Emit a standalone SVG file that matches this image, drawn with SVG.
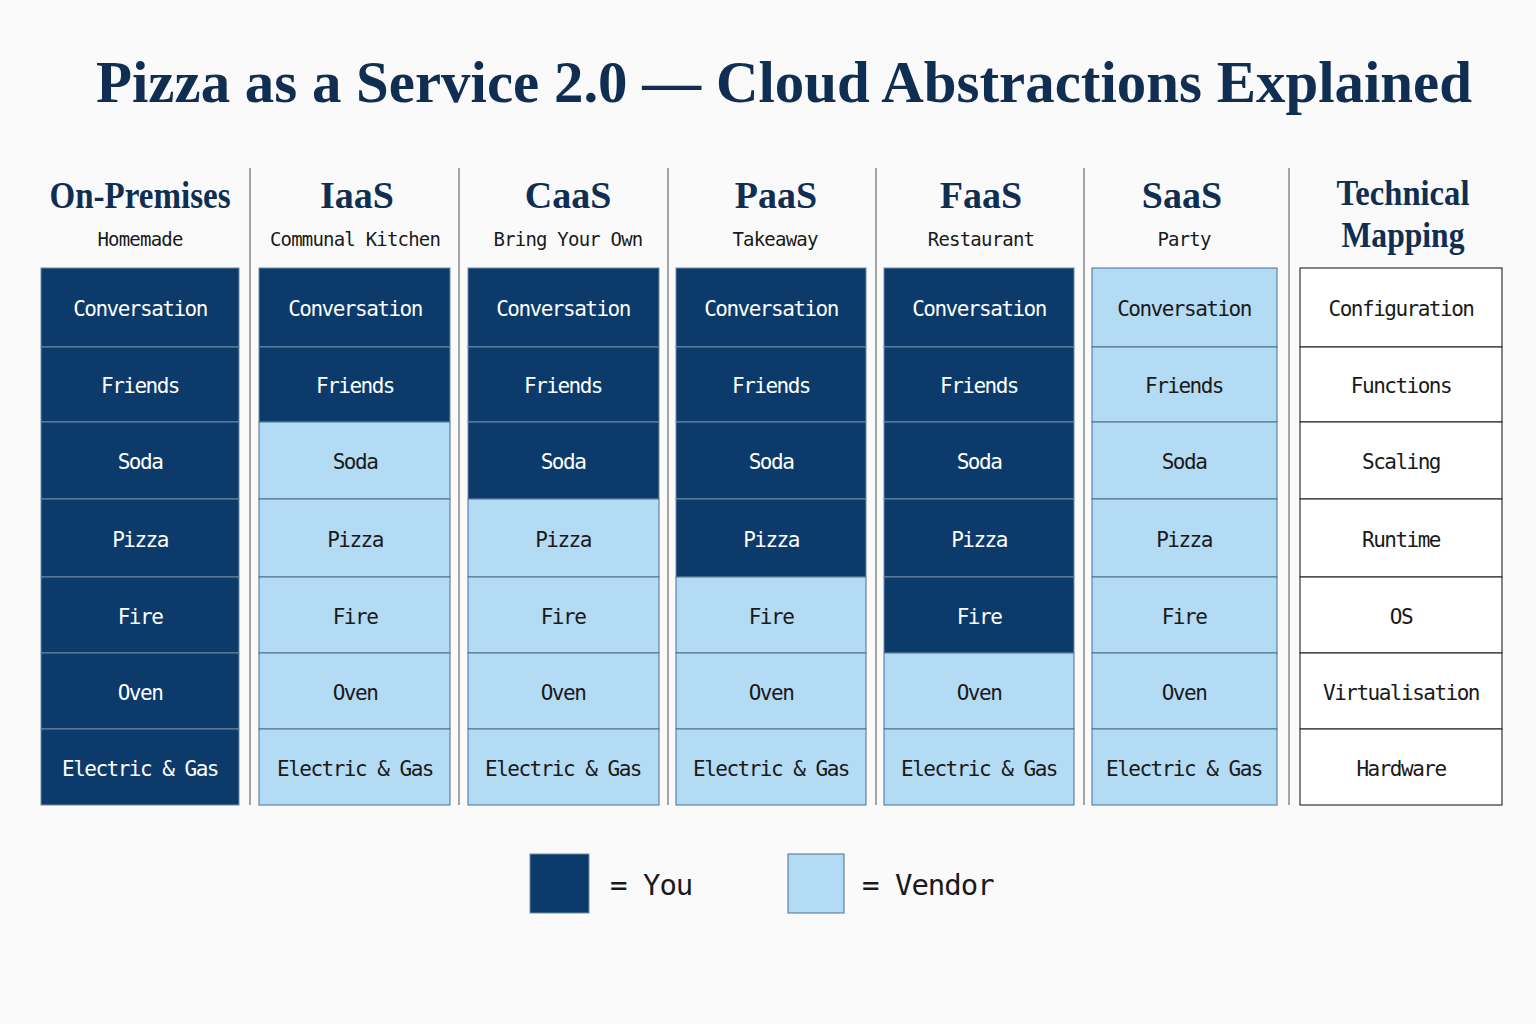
<svg xmlns="http://www.w3.org/2000/svg" width="1536" height="1024" viewBox="0 0 1536 1024">
<style>
.t{font-family:"Liberation Serif","DejaVu Serif",serif;font-weight:bold;fill:#0f2e52;text-anchor:middle}
.s{font-family:"DejaVu Sans Mono","Liberation Mono",monospace;font-size:19px;fill:#1a1a1a;text-anchor:middle;letter-spacing:-0.8px}
.c{font-family:"DejaVu Sans Mono","Liberation Mono",monospace;font-size:21px;text-anchor:middle;letter-spacing:-1.5px}
.y{fill:#0b3a6b;stroke:#6f8aa6;stroke-width:1}
.v{fill:#b3dbf3;stroke:#4d6f8f;stroke-width:1}
.w{fill:#fff;stroke:#333;stroke-width:1.2}
.yt{fill:#fff}.vt{fill:#1a1a1a}
.sep{stroke:#888;stroke-width:1.5}
</style>
<rect width="1536" height="1024" fill="#fafafa"/>
<text class="t" x="784" y="102" font-size="59" textLength="1376" lengthAdjust="spacingAndGlyphs">Pizza as a Service 2.0 — Cloud Abstractions Explained</text>
<g id="connectors">
<line class="sep" x1="250" y1="168" x2="250" y2="805"/>
<line class="sep" x1="459" y1="168" x2="459" y2="805"/>
<line class="sep" x1="668" y1="168" x2="668" y2="805"/>
<line class="sep" x1="876" y1="168" x2="876" y2="805"/>
<line class="sep" x1="1084" y1="168" x2="1084" y2="805"/>
<line class="sep" x1="1289" y1="168" x2="1289" y2="805"/>
</g>
<g id="headers">
<text class="t" x="140" y="208" font-size="37" textLength="181" lengthAdjust="spacingAndGlyphs">On-Premises</text><text class="s" x="140" y="246">Homemade</text>
<text class="t" x="357" y="208" font-size="38">IaaS</text><text class="s" x="355" y="246">Communal Kitchen</text>
<text class="t" x="568" y="208" font-size="38">CaaS</text><text class="s" x="568" y="246">Bring Your Own</text>
<text class="t" x="776" y="208" font-size="38">PaaS</text><text class="s" x="775" y="246">Takeaway</text>
<text class="t" x="981" y="208" font-size="38">FaaS</text><text class="s" x="981" y="246">Restaurant</text>
<text class="t" x="1182" y="208" font-size="38">SaaS</text><text class="s" x="1184" y="246">Party</text>
<text class="t" x="1403" y="205" font-size="36" textLength="133" lengthAdjust="spacingAndGlyphs">Technical</text><text class="t" x="1403" y="247" font-size="36" textLength="123" lengthAdjust="spacingAndGlyphs">Mapping</text>
</g>
<g id="col1">
<rect class="y" x="41" y="268" width="198" height="79"/><text class="c yt" x="140" y="316">Conversation</text>
<rect class="y" x="41" y="347" width="198" height="75"/><text class="c yt" x="140" y="393">Friends</text>
<rect class="y" x="41" y="422" width="198" height="77"/><text class="c yt" x="140" y="469">Soda</text>
<rect class="y" x="41" y="499" width="198" height="78"/><text class="c yt" x="140" y="547">Pizza</text>
<rect class="y" x="41" y="577" width="198" height="76"/><text class="c yt" x="140" y="624">Fire</text>
<rect class="y" x="41" y="653" width="198" height="76"/><text class="c yt" x="140" y="700">Oven</text>
<rect class="y" x="41" y="729" width="198" height="76"/><text class="c yt" x="140" y="776">Electric &amp; Gas</text>
</g>
<g id="col2">
<rect class="y" x="259" y="268" width="191" height="79"/><text class="c yt" x="355" y="316">Conversation</text>
<rect class="y" x="259" y="347" width="191" height="75"/><text class="c yt" x="355" y="393">Friends</text>
<rect class="v" x="259" y="422" width="191" height="77"/><text class="c vt" x="355" y="469">Soda</text>
<rect class="v" x="259" y="499" width="191" height="78"/><text class="c vt" x="355" y="547">Pizza</text>
<rect class="v" x="259" y="577" width="191" height="76"/><text class="c vt" x="355" y="624">Fire</text>
<rect class="v" x="259" y="653" width="191" height="76"/><text class="c vt" x="355" y="700">Oven</text>
<rect class="v" x="259" y="729" width="191" height="76"/><text class="c vt" x="355" y="776">Electric &amp; Gas</text>
</g>
<g id="col3">
<rect class="y" x="468" y="268" width="191" height="79"/><text class="c yt" x="563" y="316">Conversation</text>
<rect class="y" x="468" y="347" width="191" height="75"/><text class="c yt" x="563" y="393">Friends</text>
<rect class="y" x="468" y="422" width="191" height="77"/><text class="c yt" x="563" y="469">Soda</text>
<rect class="v" x="468" y="499" width="191" height="78"/><text class="c vt" x="563" y="547">Pizza</text>
<rect class="v" x="468" y="577" width="191" height="76"/><text class="c vt" x="563" y="624">Fire</text>
<rect class="v" x="468" y="653" width="191" height="76"/><text class="c vt" x="563" y="700">Oven</text>
<rect class="v" x="468" y="729" width="191" height="76"/><text class="c vt" x="563" y="776">Electric &amp; Gas</text>
</g>
<g id="col4">
<rect class="y" x="676" y="268" width="190" height="79"/><text class="c yt" x="771" y="316">Conversation</text>
<rect class="y" x="676" y="347" width="190" height="75"/><text class="c yt" x="771" y="393">Friends</text>
<rect class="y" x="676" y="422" width="190" height="77"/><text class="c yt" x="771" y="469">Soda</text>
<rect class="y" x="676" y="499" width="190" height="78"/><text class="c yt" x="771" y="547">Pizza</text>
<rect class="v" x="676" y="577" width="190" height="76"/><text class="c vt" x="771" y="624">Fire</text>
<rect class="v" x="676" y="653" width="190" height="76"/><text class="c vt" x="771" y="700">Oven</text>
<rect class="v" x="676" y="729" width="190" height="76"/><text class="c vt" x="771" y="776">Electric &amp; Gas</text>
</g>
<g id="col5">
<rect class="y" x="884" y="268" width="190" height="79"/><text class="c yt" x="979" y="316">Conversation</text>
<rect class="y" x="884" y="347" width="190" height="75"/><text class="c yt" x="979" y="393">Friends</text>
<rect class="y" x="884" y="422" width="190" height="77"/><text class="c yt" x="979" y="469">Soda</text>
<rect class="y" x="884" y="499" width="190" height="78"/><text class="c yt" x="979" y="547">Pizza</text>
<rect class="y" x="884" y="577" width="190" height="76"/><text class="c yt" x="979" y="624">Fire</text>
<rect class="v" x="884" y="653" width="190" height="76"/><text class="c vt" x="979" y="700">Oven</text>
<rect class="v" x="884" y="729" width="190" height="76"/><text class="c vt" x="979" y="776">Electric &amp; Gas</text>
</g>
<g id="col6">
<rect class="v" x="1092" y="268" width="185" height="79"/><text class="c vt" x="1184" y="316">Conversation</text>
<rect class="v" x="1092" y="347" width="185" height="75"/><text class="c vt" x="1184" y="393">Friends</text>
<rect class="v" x="1092" y="422" width="185" height="77"/><text class="c vt" x="1184" y="469">Soda</text>
<rect class="v" x="1092" y="499" width="185" height="78"/><text class="c vt" x="1184" y="547">Pizza</text>
<rect class="v" x="1092" y="577" width="185" height="76"/><text class="c vt" x="1184" y="624">Fire</text>
<rect class="v" x="1092" y="653" width="185" height="76"/><text class="c vt" x="1184" y="700">Oven</text>
<rect class="v" x="1092" y="729" width="185" height="76"/><text class="c vt" x="1184" y="776">Electric &amp; Gas</text>
</g>
<g id="col7">
<rect class="w" x="1300" y="268" width="202" height="79"/><text class="c vt" x="1401" y="316">Configuration</text>
<rect class="w" x="1300" y="347" width="202" height="75"/><text class="c vt" x="1401" y="393">Functions</text>
<rect class="w" x="1300" y="422" width="202" height="77"/><text class="c vt" x="1401" y="469">Scaling</text>
<rect class="w" x="1300" y="499" width="202" height="78"/><text class="c vt" x="1401" y="547">Runtime</text>
<rect class="w" x="1300" y="577" width="202" height="76"/><text class="c vt" x="1401" y="624">OS</text>
<rect class="w" x="1300" y="653" width="202" height="76"/><text class="c vt" x="1401" y="700">Virtualisation</text>
<rect class="w" x="1300" y="729" width="202" height="76"/><text class="c vt" x="1401" y="776">Hardware</text>
</g>
<g id="legend">
<rect class="y" x="530" y="854" width="59" height="59"/>
<text x="610" y="895" font-family="DejaVu Sans Mono,monospace" font-size="29" fill="#1a1a1a" letter-spacing="-1">= You</text>
<rect class="v" x="788" y="854" width="56" height="59"/>
<text x="862" y="895" font-family="DejaVu Sans Mono,monospace" font-size="29" fill="#1a1a1a" letter-spacing="-1">= Vendor</text>
</g>
</svg>
